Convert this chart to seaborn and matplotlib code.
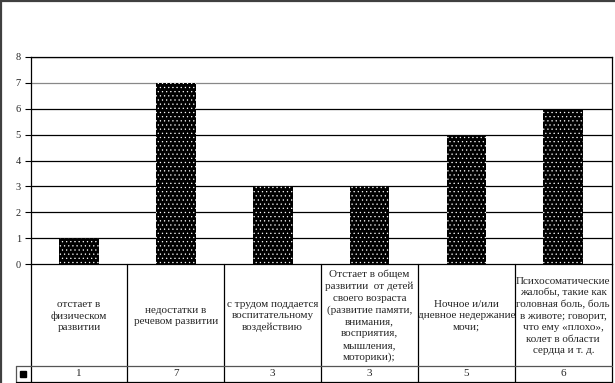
import matplotlib
matplotlib.use("Agg")
import matplotlib.pyplot as plt
import seaborn as sns
import pandas as pd
from matplotlib.lines import Line2D
from matplotlib.transforms import blended_transform_factory

categories = [
    "отстает в\nфизическом\nразвитии",
    "недостатки в\nречевом развитии",
    "с трудом поддается\nвоспитательному\nвоздействию",
    "Отстает в общем\nразвитии  от детей\nсвоего возраста\n(развитие памяти,\nвнимания,\nвосприятия,\nмышления,\nмоторики);",
    "Ночное и/или\nдневное недержание\nмочи;",
    "Психосоматические\nжалобы, такие как\nголовная боль, боль\nв животе; говорит,\nчто ему «плохо»,\nколет в области\nсердца и т. д.",
]
values = [1, 7, 3, 3, 5, 6]
yticks = [0, 1, 2, 3, 4, 5, 6, 7, 8]

sns.set_style("white")
plt.rcParams["font.family"] = ["Liberation Serif", "DejaVu Serif"]
plt.rcParams["hatch.color"] = "white"
plt.rcParams["hatch.linewidth"] = 0.4

W, H = 615, 383
fig = plt.figure(figsize=(W / 100, H / 100), dpi=100)
fig.patch.set_facecolor("white")

x0, x1 = 30.5, 611.7
ytop, y0 = 56.7, 264.3
ax = fig.add_axes([x0 / W, 1 - y0 / H, (x1 - x0) / W, (y0 - ytop) / H])

df = pd.DataFrame({"cat": [str(i) for i in range(len(values))], "val": values})
sns.barplot(data=df, x="cat", y="val", color="black", width=0.41,
            saturation=1, hatch="....", edgecolor="white", linewidth=0, ax=ax, zorder=3)

ax.set_ylim(0, 8)
ax.set_xlim(-0.5, len(values) - 0.5)
ax.set_yticks(yticks)
ax.set_yticklabels([str(t) for t in yticks], fontsize=7.5)
ax.set_xticks([])
ax.set_xlabel("")
ax.set_ylabel("")
ax.tick_params(axis="y", direction="out", length=4, width=0.8, pad=3, color="black", left=True)
for t in yticks[1:]:
    ax.axhline(t, color="#888888" if t == 7 else "black", lw=0.9, zorder=1)
for s in ["top", "right", "left", "bottom"]:
    ax.spines[s].set_visible(True)
    ax.spines[s].set_color("black")
    ax.spines[s].set_linewidth(0.9)

# data table below the axis
tr = blended_transform_factory(ax.transData, fig.transFigure)
def fy(py):
    return 1 - py / H
y_row, y_bot = 365.5, 382.0
n = len(values)
for i in range(n + 1):
    ax.add_line(Line2D([i - 0.5, i - 0.5], [fy(y0), fy(y_bot)], transform=tr,
                       color="black", lw=0.9, clip_on=False))
ax.add_line(Line2D([-0.5, n - 0.5], [fy(y_bot), fy(y_bot)], transform=tr,
                   color="black", lw=0.9, clip_on=False))
# value row line and legend cell
fig.add_artist(Line2D([16 / W, x1 / W], [fy(y_row), fy(y_row)], color="#555555", lw=0.9))
fig.add_artist(Line2D([16 / W, 16 / W], [fy(y_row), fy(y_bot)], color="#555555", lw=0.9))
fig.add_artist(Line2D([16 / W, x0 / W], [fy(y_bot), fy(y_bot)], color="black", lw=0.9))
fig.add_artist(Line2D([22.5 / W], [fy(373.5)], marker="s", markersize=5,
                      color="black", linestyle="none"))

for i, (c, v) in enumerate(zip(categories, values)):
    ax.text(i, fy((y0 + y_row) / 2 + 1), c, transform=tr, ha="center", va="center",
            fontsize=8, linespacing=1.36, multialignment="center")
    ax.text(i, fy((y_row + y_bot) / 2), str(v), transform=tr, ha="center",
            va="center", fontsize=8)

# outer frame (top and left)
fig.add_artist(Line2D([0, 1], [1 - 0.8 / H, 1 - 0.8 / H], color="#404040", lw=1.6))
fig.add_artist(Line2D([0.8 / W, 0.8 / W], [0, 1], color="#404040", lw=1.6))

fig.savefig("out.png", dpi=100, facecolor="white")
